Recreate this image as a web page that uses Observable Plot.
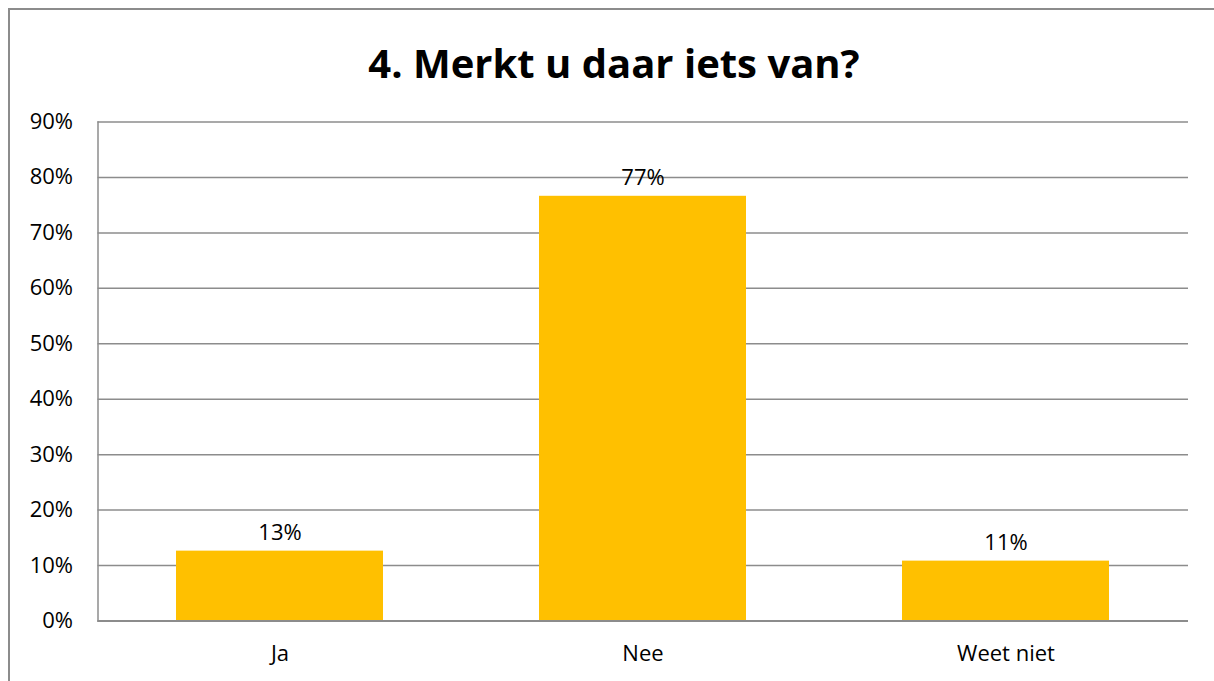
<!DOCTYPE html>
<html>
<head>
<meta charset="utf-8">
<script src="https://cdn.jsdelivr.net/npm/d3@7"></script>
<script src="https://cdn.jsdelivr.net/npm/@observablehq/plot@0.6"></script>
<style>
  html, body { margin: 0; padding: 0; background: #fff; overflow: hidden; width: 1214px; height: 681px; }
  #frame { position: absolute; left: 8px; top: 8px; width: 1230px; height: 700px; border: 2px solid #8c8c8c; box-sizing: border-box; }
  #title { position: absolute; left: 0; top: 35px; width: 1228px; text-align: center; font-family: "Open Sans", sans-serif; font-weight: 700; font-size: 40px; line-height: 56px; color: #000; }
  #chart { position: absolute; left: 0; top: 100px; }
</style>
</head>
<body>
<div id="frame"></div>
<div id="title">4. Merkt u daar iets van?</div>
<div id="chart"></div>
<script>
const categories = ["Ja", "Nee", "Weet niet"];
const values = [12.6, 76.6, 10.8];
const yTicks = [0, 10, 20, 30, 40, 50, 60, 70, 80, 90];

const data = categories.map((c, i) => ({category: c, value: values[i]}));
const font = "'Open Sans', sans-serif";

const chart = Plot.plot({
  width: 1214,
  height: 581,
  marginTop: 21.5,
  marginBottom: 60.5,
  marginLeft: 97.5,
  marginRight: 26,
  style: {fontFamily: font, fontSize: "22px", color: "#000", background: "transparent"},
  x: {domain: categories, paddingInner: 0.4286, paddingOuter: 0.2143, label: null},
  y: {domain: [0, 90], ticks: yTicks, label: null},
  marks: [
    Plot.gridY(yTicks, {stroke: "#8c8c8c", strokeOpacity: 1, strokeWidth: 1.5}),
    Plot.frame({anchor: "left", stroke: "#8c8c8c", strokeWidth: 1.5}),
    Plot.barY(data, {x: "category", y: "value", fill: "#FFC000"}),
    Plot.ruleY([0], {stroke: "#8c8c8c", strokeWidth: 2}),
    Plot.axisY({ticks: yTicks, tickSize: 0, tickPadding: 25, tickFormat: d => d + "%", fontSize: 22, label: null}),
    Plot.axisX({tickSize: 0, tickPadding: 24, fontSize: 22, label: null}),
    Plot.text(data, {x: "category", y: "value", text: d => Math.round(d.value) + "%", dy: -18, fontSize: 22, fill: "#000"})
  ]
});
document.getElementById("chart").appendChild(chart);
</script>
</body>
</html>
